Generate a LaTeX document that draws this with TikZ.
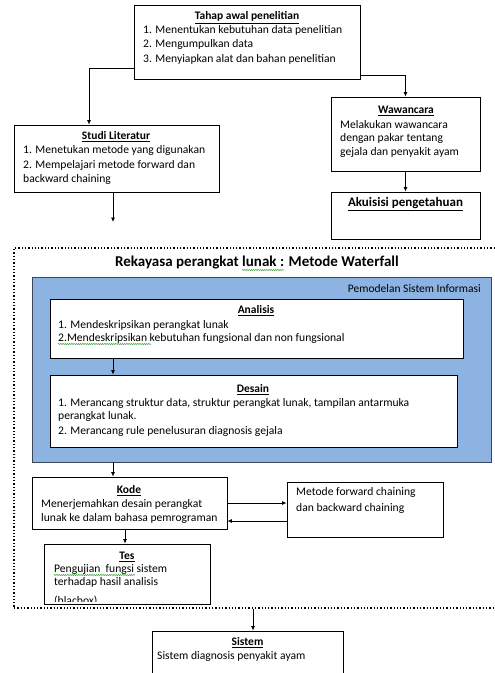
\documentclass[tikz,border=0pt]{standalone}
\usepackage{fontspec}
\setmainfont{Carlito}
\usetikzlibrary{arrows.meta,decorations.pathmorphing}
\definecolor{bluefill}{RGB}{141,179,226}
\definecolor{blueline}{RGB}{60,70,90}
\definecolor{squig}{RGB}{60,160,60}
\begin{document}
\begin{tikzpicture}[x=1pt,y=-1pt,
  box/.style={draw=black,line width=0.8pt,fill=white,inner sep=0pt,minimum width=#1},
  ttl/.style={inner sep=0pt,font=\fontsize{11.5}{13}\selectfont\bfseries,text height=7.5pt,text depth=2.5pt},
  txt/.style={inner sep=0pt,anchor=west,font=\fontsize{11.6}{13}\selectfont,text height=7.5pt,text depth=2.5pt},
  arr/.style={draw=black,line width=0.8pt,-{Latex[length=4.5pt,width=4pt]}},
  sq/.style={draw=squig,line width=0.5pt,decorate,decoration={snake,amplitude=0.6pt,segment length=2.2pt}}]
\useasboundingbox (0,0) rectangle (495,673);
\fill[white] (0,0) rectangle (495,673);

% top boxes
\node[box=226pt,minimum height=74pt] (tahap) at (247,42) {};
\node[ttl] (tahapT) at (247,17) {\underline{Tahap awal penelitian}};
\node[txt] (tahap1) at (143,31) {1. Menentukan kebutuhan data penelitian};
\node[txt] (tahap2) at (143,45) {2. Mengumpulkan data};
\node[txt] (tahap3) at (143,60) {3. Menyiapkan alat dan bahan penelitian};

\node[box=205pt,minimum height=67pt] (studi) at (116.5,158.5) {};
\node[ttl] (studiT) at (116,137) {\underline{Studi Literatur}};
\node[txt] (studi1) at (23,151) {1. Menetukan metode yang digunakan};
\node[txt] (studi2) at (23,166) {2. Mempelajari metode forward dan};
\node[txt] (studi3) at (23,180) {backward chaining};

\node[box=149pt,minimum height=74pt] (waw) at (405.5,134) {};
\node[ttl] (wawT) at (406,111) {\underline{Wawancara}};
\node[txt] (waw1) at (340,126) {Melakukan wawancara};
\node[txt] (waw2) at (340,139) {dengan pakar tentang};
\node[txt] (waw3) at (340,153) {gejala dan penyakit ayam};

\node[box=149pt,minimum height=47pt] (akui) at (405.5,215.5) {};
\node[ttl,font=\fontsize{13}{15}\selectfont\bfseries] (akuiT) at (405.5,204) {\underline{Akuisisi pengetahuan}};

% connectors top
\draw[arr] (tahap.west |- 0,68) -| (studi.north -| 89,0);
\draw[arr] (tahap.east |- 0,75) -| (waw.north);
\coordinate (sEnd) at (113,222);
\draw[arr] (studi.south -| sEnd) -- (sEnd);
\draw[arr] (waw.south) -- (akui.north);

% dotted frame
\node[draw=black,line width=1.3pt,dotted,inner sep=0pt,minimum width=496pt,minimum height=360pt] (frame) at (262,428) {};
\node[ttl,font=\fontsize{15}{17}\selectfont\bfseries] (frameT) at (257,264) {Rekayasa perangkat lunak : Metode Waterfall};
\draw[sq] (242,270) -- (284,270);

% blue box
\node[draw=blueline,line width=0.9pt,fill=bluefill,inner sep=0pt,minimum width=459pt,minimum height=185pt] (blue) at (261.5,369.5) {};
\node[txt,anchor=east,font=\fontsize{11.5}{13}\selectfont] (blueT) at (481,290) {Pemodelan Sistem Informasi};

\node[box=413pt,minimum height=59pt] (anal) at (256.5,328.5) {};
\node[ttl] (analT) at (256,311) {\underline{Analisis}};
\node[txt] (anal1) at (58,326) {1. Mendeskripsikan perangkat lunak};
\node[txt] (anal2) at (58,339) {2.Mendeskripsikan kebutuhan fungsional dan non fungsional};
\draw[sq] (58,344) -- (151,344);

\node[box=407pt,minimum height=72pt] (desain) at (253.5,411) {};
\node[ttl] (desainT) at (253,390) {\underline{Desain}};
\node[txt] (desain1) at (58,404) {1. Merancang struktur data, struktur perangkat lunak, tampilan antarmuka};
\node[txt] (desain2) at (58,417) {perangkat lunak.};
\node[txt] (desain3) at (58,432) {2. Merancang rule penelusuran diagnosis gejala};

\draw[arr] (anal.south -| 113,0) -- (desain.north -| 113,0);

% lower boxes
\node[box=195pt,minimum height=52pt] (kode) at (129.5,503) {};
\node[ttl] (kodeT) at (129,491) {\underline{Kode}};
\node[txt] (kode1) at (41,505) {Menerjemahkan desain perangkat};
\node[txt] (kode2) at (41,519) {lunak ke dalam bahasa pemrograman};

\node[box=156pt,minimum height=55pt] (metode) at (365,509.5) {};
\node[txt] (metode1) at (296,493) {Metode forward chaining};
\node[txt] (metode2) at (296,509) {dan backward chaining};

\node[box=166pt,minimum height=60pt] (tes) at (127,574) {};
\node[ttl] (tesT) at (127,557) {\underline{Tes}};
\begin{scope}
\clip (tes.north west) rectangle ([yshift=3pt]tes.south east);
\node[txt] (tes1) at (54,570) {Pengujian\ \ fungsi sistem};
\node[txt] (tes2) at (54,583) {terhadap hasil analisis};
\node[txt] (tes3) at (54,602) {(blacbox)};
\end{scope}
\draw[sq] (54,575) -- (135,575);

\node[box=191pt,minimum height=59pt] (sistem) at (247.5,660.5) {};
\node[ttl] (sistemT) at (247.5,643) {\underline{Sistem}};
\node[txt] (sistem1) at (157,657) {Sistem diagnosis penyakit ayam};

% lower connectors
\draw[arr] (blue.south -| 113,0) -- (kode.north -| 113,0);
\draw[arr] (kode.east |- 0,503) -- (metode.west |- 0,503);
\draw[arr] (metode.west |- 0,521) -- (kode.east |- 0,521);
\draw[arr] (kode.south -| 125,0) -- (tes.north -| 125,0);
\draw[arr] (frame.south -| 253,0) -- (sistem.north -| 253,0);
\end{tikzpicture}
\end{document}
